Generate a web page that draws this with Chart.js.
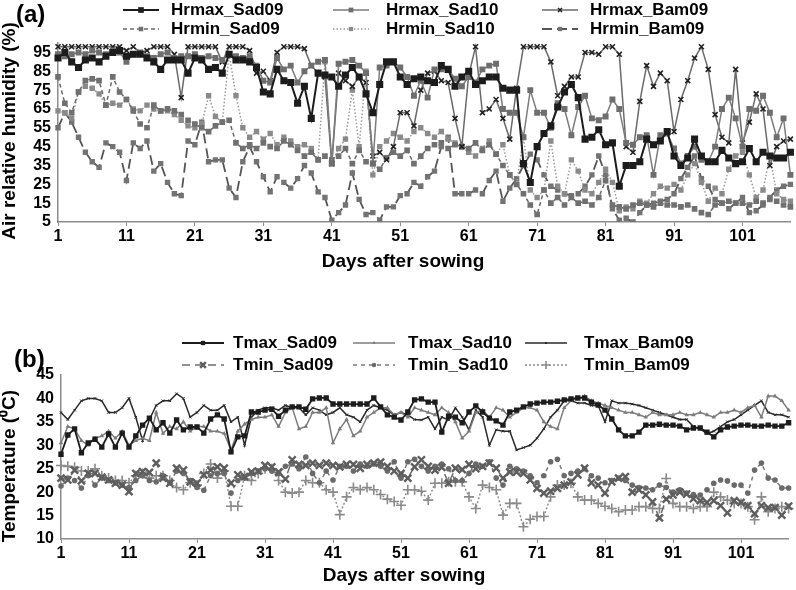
<!DOCTYPE html>
<html>
<head>
<meta charset="utf-8">
<script src="https://cdn.jsdelivr.net/npm/chart.js@4.4.1/dist/chart.umd.min.js"></script>
<style>
body { margin: 0; background: #fff; }
#wrap { position: relative; width: 796px; height: 590px; }
canvas { position: absolute; left: 0; }
</style>
</head>
<body>
<div id="wrap">
  <canvas id="rh_chart" width="796" height="275" style="top:0px"></canvas>
  <canvas id="temp_chart" width="796" height="290" style="top:300px"></canvas>
</div>
<script>
// days after sowing 1..108
var days = [];
for (var d = 1; d <= 108; d++) days.push(String(d));

// (a) air relative humidity (%)
var hrmaxSad09 = [92,95,90,87,91,92,90,93,95,96,
  93,94,94,92,90,86,91,91,91,84,
  92,91,86,87,84,94,91,91,90,87,
  74,73,86,80,79,68,77,60,84,83,
  82,77,83,87,82,73,63,78,90,90,
  82,78,81,82,80,79,88,86,77,82,
  85,78,80,82,82,76,75,75,36,26,
  45,52,56,66,74,78,71,49,50,54,
  46,47,24,35,35,37,49,46,48,53,
  40,35,39,49,40,37,37,43,39,36,
  37,44,37,42,40,39,39,42];
var hrmaxSad10 = [94,93,94,95,94,96,95,94,96,95,
  90,94,95,93,92,94,95,92,93,93,
  94,92,93,92,91,94,93,92,93,88,
  80,79,92,86,88,79,85,88,90,91,
  36,89,90,91,88,84,36,87,88,90,
  87,82,72,80,71,86,86,86,81,77,
  82,79,86,88,89,65,63,63,50,75,
  63,63,55,68,65,51,66,72,60,59,
  61,70,65,47,46,50,51,30,51,52,
  44,36,40,45,38,37,45,65,71,60,
  45,65,64,72,63,50,60,30];
var hrmaxBam09 = [98,98,98,98,98,98,98,98,98,98,
  96,98,95,96,98,98,98,94,71,98,
  98,98,98,98,90,98,98,98,96,84,
  85,80,95,98,98,98,97,88,84,82,
  36,84,80,77,82,79,40,42,38,45,
  63,63,56,75,84,85,80,79,60,45,
  83,98,63,65,70,60,49,76,98,98,
  98,98,90,72,77,82,82,95,95,94,
  98,98,94,45,42,69,88,77,84,80,
  53,70,80,92,98,86,62,50,47,86,
  47,58,73,65,35,45,48,49];
var hrminSad09 = [82,68,63,74,80,81,80,67,82,74,
  70,64,57,55,67,64,65,64,62,59,
  57,55,53,56,58,59,47,44,46,44,
  47,45,44,48,46,43,40,42,38,40,
  38,40,44,36,43,37,36,33,39,42,
  40,43,36,40,44,46,47,44,46,45,
  44,47,43,46,41,35,30,25,20,14,
  9,22,15,18,14,18,15,16,14,18,
  27,14,13,12,14,15,14,13,15,14,
  14,13,14,12,10,9,14,15,16,15,
  15,14,16,15,17,16,14,13];
var hrminSad10 = [64,63,60,74,77,76,73,67,68,67,
  70,65,64,67,65,64,64,62,59,56,
  55,57,72,61,58,94,72,55,50,53,
  49,52,46,50,48,45,46,44,38,90,
  36,44,49,75,45,85,30,45,48,52,
  50,48,53,55,52,50,53,49,47,45,
  42,40,44,48,41,46,30,25,50,22,
  18,22,48,24,20,38,32,22,20,26,
  33,26,11,13,12,16,15,20,24,23,
  25,22,30,36,26,16,23,20,33,40,
  42,30,18,22,40,20,17,16];
var hrminBam09 = [55,63,58,50,42,37,34,47,45,42,
  27,47,44,48,32,36,26,20,19,48,
  46,58,37,38,38,23,18,37,45,37,
  29,21,29,26,23,28,35,31,21,18,
  6,10,14,31,17,9,10,6,13,13,
  19,20,26,24,29,32,45,50,20,20,
  20,22,20,27,32,16,23,28,35,41,
  38,30,24,22,20,19,20,24,30,40,
  30,12,6,7,5,10,14,15,16,17,
  20,28,34,40,28,24,17,15,12,15,
  18,10,11,14,18,22,24,25];
var rhTicks = [5,15,25,35,45,55,65,75,85,95];

// (b) temperature (oC)
var tmaxSad09 = [28.1,32.2,33.5,28.4,30.5,31.3,29.6,32.4,29.6,32.6,
  29.6,32,34.3,35.8,33.3,34.8,32.6,35.4,33.3,33.9,
  33.9,32.6,35.6,36.5,35.6,28.6,31.8,32,37.1,37.1,
  37.5,37.7,36.2,37.5,38.2,38.2,37.7,39.9,40.1,40.1,
  38.8,38.8,38.8,38.8,38.8,38.8,40.1,38.2,36.5,36,
  35.4,37.1,39.7,39.9,39.2,39.2,32.8,36.2,36,34.8,
  37.1,38.4,37.1,35.8,35.2,34.3,37.1,37.5,38.2,38.8,
  39,39.2,39.2,39.4,39.7,39.9,40.1,40.1,39.2,38.6,
  37.5,35.6,33.3,32,32,32.8,34.3,34.3,34.5,34.3,
  34.3,34.1,33.3,33.7,33.7,32.8,31.8,33.3,33.9,34.1,
  34.3,34.3,34.1,34.1,34.3,34.1,34.1,34.8];
var tmaxSad10 = [30.5,34,33.5,31,30,31.5,32,33,31.5,33,
  30,31,31.5,31,37,32.5,34,33.5,35,33,
  34,34,33,33,32.5,29,33,34.5,35.5,36,
  36,36.5,34,37,38,33.5,34,37,37,38,
  30.5,33.5,35.5,32,33,36,37,38,38,36.5,
  37,36,38,37.5,37,36.5,38,37,35,31.5,
  33,37,37.5,36,38,37.5,36,37,38,38,
  37.5,35,34,33.5,38,39.5,40,40.5,39.5,39,
  38.5,38,37.5,37,37,36.5,36,37,36.5,36.5,
  36.5,37,36.5,36.5,37,36.5,36,37,37,37.5,
  37,38,38.5,36,40.5,40.5,39.5,37.5];
var tmaxBam09 = [37,35.5,37.5,39.5,40,40,39.5,37,37,38,
  40,36,31,35.5,38.5,39.5,39.5,41,40,36,
  37,38.5,37.5,37.5,38.5,35,36,30,36,37.5,
  38,38,37.5,38.5,38,38,36.5,38,37.5,36.5,
  37,38,36.5,36,35,37.5,38.5,38,37.5,36.5,
  37,36.5,35.5,35.4,36,33.5,36,35.4,38,36,
  33.3,37.5,36,30,33.3,33,33,29,29.5,30,
  31.5,33.5,36,37.5,39.5,39.5,39,39,38.5,38.5,
  35,39.5,39,39,38.8,38.5,38,37.5,37,36.5,
  36,35.5,35.5,34,33.5,32.5,33,34,35,35.5,
  36.5,37.5,38.5,39.5,37,36.5,36.5,36];
var tminSad09 = [23,22.6,24.7,22.4,24,24,23.2,22.6,21.9,21.5,
  20.1,24,24.4,24.2,26.2,23,21.9,25.1,24.7,22.2,
  21.9,23.7,24.7,25.4,25.1,21.9,23.7,23.3,24.3,24.5,
  25.7,25.4,24.3,22.8,26.9,25.9,25.7,26.2,25.7,26.2,
  25.7,25.4,25.9,25.9,25.1,25.9,26.2,26.4,25.5,24.5,
  24,23,25.4,26.9,25.5,24.7,25.3,21.9,25.1,24.8,
  25.9,25,25.5,26.2,25.1,23,24.3,24.3,24,22.6,
  20.8,19.8,20.2,20.8,21.5,22.2,23.7,25.1,22,21.5,
  19.8,22.2,23,23.3,20,20.5,19.4,17.9,14.5,18.5,
  19.4,20,19.6,18.6,18.2,17.8,18.2,17.1,15.6,18.2,
  17.8,17.1,15.4,17.1,16.7,16.7,15.1,17];
var tminSad10 = [21.3,23,22.5,20.9,23.5,21.5,23,22.5,22,21.5,
  21,22.5,23.5,22.5,22.2,23.5,22,24.5,24,22.5,
  21,20.4,23.5,24,24,19.8,22.5,23,24,24.5,
  25,24.5,24,25.5,26,25,27.5,24,22,24.5,
  22.6,25.5,25.5,24.5,26,25.5,26,25.5,24.5,26.5,
  23,26.5,27,25.5,24.5,25.5,26,25,22.5,22.5,
  24,26,25.5,26.5,23,21.5,25.5,25,24.5,23.5,
  22,23.5,26.5,27,23.5,24,24.5,25,23.5,23,
  22,22.5,23,22.5,21.5,21,20.9,20.5,21.5,21,
  20,20.5,19.8,19.5,19.4,20.5,21.9,22.6,22.4,21.5,
  21.5,19.8,24.7,26.2,23,22.6,20.9,20.9];
var tminBam09 = [25.7,25.5,25.3,24.5,24.5,25,23.5,23,22.5,22.5,
  22,23.5,24,23,23.5,23.5,22.5,21,20.5,22,
  21.5,24,26,23,24.5,17,17,23.5,22.5,24,
  25,25,22.5,20,19.8,20,22.5,22,22,20.5,
  20,15.2,19,21,20.5,21,20.5,19.5,18.5,18,
  17.2,20.5,20.5,20.2,18.3,21.9,21.9,22.2,22.2,22.2,
  19,16.5,21.5,21,20.5,15.1,17.6,17.6,12.6,14.2,
  14.8,14.8,19,21.5,21.5,21.9,19,18.3,18.3,17.6,
  17,16.5,15.8,16.2,16.2,16.9,16.9,16.5,16.5,22.9,
  17.6,16.9,16.9,16.5,16.9,16.9,20,19,18.3,17.6,
  17.6,16.9,14.1,19,15.8,16.5,16.9,16.5];
var tempTicks = [10,15,20,25,30,35,40,45];

Chart.defaults.font.family = 'Arial, "Liberation Sans", sans-serif';
Chart.defaults.color = '#000';

// draws panel letter, axis titles and the 3x2 legend with line + marker samples
var overlay = {
  id: 'overlay',
  afterDraw: function(chart, args, opts) {
    var ctx = chart.ctx;
    ctx.save();
    ctx.textBaseline = 'middle';
    opts.texts.forEach(function(t) {
      ctx.save();
      ctx.font = t.font;
      ctx.fillStyle = '#000';
      ctx.translate(t.x, t.y);
      if (t.rotate) ctx.rotate(-Math.PI / 2);
      ctx.textAlign = t.align || 'center';
      ctx.fillText(t.text, 0, 0);
      ctx.restore();
    });
    chart.data.datasets.forEach(function(ds, i) {
      var col = i % 3, row = Math.floor(i / 3);
      var x0 = opts.sampleX[col], y = opts.rows[row];
      ctx.save();
      ctx.strokeStyle = ds.borderColor;
      ctx.lineWidth = ds.borderWidth;
      ctx.setLineDash(ds.borderDash || []);
      ctx.beginPath();
      ctx.moveTo(x0, y);
      ctx.lineTo(x0 + opts.sampleLen, y);
      ctx.stroke();
      ctx.setLineDash([]);
      ctx.fillStyle = ds.pointBackgroundColor;
      ctx.strokeStyle = ds.pointBorderColor;
      ctx.lineWidth = ds.pointBorderWidth;
      Chart.helpers.drawPoint(ctx, {pointStyle: ds.pointStyle, radius: ds.pointRadius * 0.8,
        rotation: 0, borderWidth: ds.pointBorderWidth}, x0 + opts.sampleLen / 2, y);
      ctx.font = 'bold 17px Arial, "Liberation Sans", sans-serif';
      ctx.fillStyle = '#000';
      ctx.textAlign = 'left';
      ctx.fillText(ds.label, opts.textX[col], y);
      ctx.restore();
    });
    ctx.restore();
  }
};

function line(label, data, color, width, dash, style, radius, mcolor, mborder) {
  return {
    label: label, data: data,
    borderColor: color, borderWidth: width, borderDash: dash,
    pointStyle: style, pointRadius: radius,
    pointBackgroundColor: mcolor, pointBorderColor: mcolor, pointBorderWidth: mborder,
    tension: 0, fill: false
  };
}

function xAxis(height) {
  return {
    type: 'category',
    offset: false,
    afterFit: function(s) { s.height = height; },
    border: { color: '#8c8c8c', width: 1.5 },
    grid: { drawOnChartArea: false, tickLength: 4,
      color: function(c) { return c.index % 10 === 0 ? '#8c8c8c' : 'rgba(0,0,0,0)'; } },
    ticks: { autoSkip: false, maxRotation: 0, padding: 1,
      font: { size: 16, weight: 'bold' },
      callback: function(v, i) { return i % 10 === 0 ? this.getLabelForValue(v) : ''; } }
  };
}

function yAxis(width, min, max, tickVals) {
  return {
    min: min, max: max,
    afterFit: function(s) { s.width = width; },
    afterBuildTicks: function(s) { s.ticks = tickVals.map(function(v) { return {value: v}; }); },
    border: { color: '#8c8c8c', width: 1.5 },
    grid: { drawOnChartArea: false, drawTicks: false },
    ticks: { autoSkip: false, padding: 7, font: { size: 16, weight: 'bold' } }
  };
}

var ctx = document.getElementById('rh_chart').getContext('2d');
var rh_chart = new Chart(ctx, {
  type: 'line',
  data: {
    labels: days,
    datasets: [
      line('Hrmax_Sad09', hrmaxSad09, '#1c1c1c', 2, [], 'rect', 5, '#1c1c1c', 0),
      line('Hrmax_Sad10', hrmaxSad10, '#7c7c7c', 1.5, [], 'rect', 4.2, '#6e6e6e', 0),
      line('Hrmax_Bam09', hrmaxBam09, '#6a6a6a', 1.5, [], 'crossRot', 3.5, '#222', 1.6),
      line('Hrmin_Sad09', hrminSad09, '#6a6a6a', 1.5, [4, 3], 'rect', 4, '#707070', 0),
      line('Hrmin_Sad10', hrminSad10, '#9a9a9a', 1.5, [1.5, 2], 'rect', 3.8, '#8a8a8a', 0),
      line('Hrmin_Bam09', hrminBam09, '#555', 1.8, [10, 5], 'rect', 3.8, '#737373', 0)
    ]
  },
  options: {
    responsive: false,
    animation: false,
    layout: { padding: { top: 43, right: 4, left: 0, bottom: 0 } },
    plugins: {
      legend: { display: false },
      tooltip: { enabled: false },
      overlay: {
        sampleX: [123, 333, 542], textX: [171, 386, 590], rows: [10, 29], sampleLen: 36,
        texts: [
          { text: '(a)', x: 16, y: 15, align: 'left', font: 'bold 24px Arial, "Liberation Sans", sans-serif' },
          { text: 'Air relative humidity (%)', x: 10, y: 131, rotate: true, font: 'bold 19px Arial, "Liberation Sans", sans-serif' },
          { text: 'Days after sowing', x: 403, y: 262, font: 'bold 19px Arial, "Liberation Sans", sans-serif' }
        ]
      }
    },
    scales: {
      x: xAxis(53),
      y: yAxis(58, 5, 100, rhTicks)
    }
  },
  plugins: [overlay]
});

var ctx2 = document.getElementById('temp_chart').getContext('2d');
var temp_chart = new Chart(ctx2, {
  type: 'line',
  data: {
    labels: days,
    datasets: [
      line('Tmax_Sad09', tmaxSad09, '#1c1c1c', 1.8, [], 'rect', 3.8, '#1c1c1c', 0),
      line('Tmax_Sad10', tmaxSad10, '#7c7c7c', 1.5, [], 'triangle', 2.6, '#7c7c7c', 0),
      line('Tmax_Bam09', tmaxBam09, '#2a2a2a', 1.5, [], 'crossRot', 1.8, '#2a2a2a', 1),
      line('Tmin_Sad09', tminSad09, '#6e6e6e', 1.5, [8, 5], 'crossRot', 5, '#5e5e5e', 2.4),
      line('Tmin_Sad10', tminSad10, '#7a7a7a', 1.5, [4, 4], 'circle', 2.8, '#6a6a6a', 0),
      line('Tmin_Bam09', tminBam09, '#8a8a8a', 1.4, [2, 2], 'cross', 5, '#8a8a8a', 1.6)
    ]
  },
  options: {
    responsive: false,
    animation: false,
    layout: { padding: { top: 75, right: 4, left: 0, bottom: 0 } },
    plugins: {
      legend: { display: false },
      tooltip: { enabled: false },
      overlay: {
        sampleX: [182, 353, 525], textX: [233, 408, 584], rows: [43, 65], sampleLen: 42,
        texts: [
          { text: '(b)', x: 14, y: 60, align: 'left', font: 'bold 24px Arial, "Liberation Sans", sans-serif' },
          { text: 'Temperature (\u2070C)', x: 10, y: 166, rotate: true, font: 'bold 19px Arial, "Liberation Sans", sans-serif' },
          { text: 'Days after sowing', x: 404, y: 276, font: 'bold 19px Arial, "Liberation Sans", sans-serif' }
        ]
      }
    },
    scales: {
      x: xAxis(51),
      y: yAxis(61, 10, 45, tempTicks)
    }
  },
  plugins: [overlay]
});
</script>
</body>
</html>
